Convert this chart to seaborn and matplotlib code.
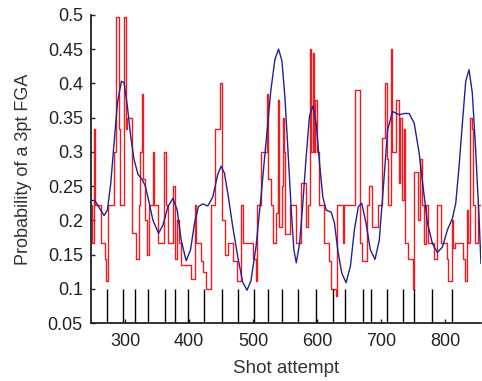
import numpy as np
import pandas as pd
import matplotlib
matplotlib.use("Agg")
import matplotlib.pyplot as plt
import seaborn as sns
from matplotlib.ticker import FuncFormatter

# red step series (shot attempt where a step starts, windowed 3pt share)
red_x = [246.6, 248.6, 251.7, 253.8, 262.1, 268.4, 271.0, 273.5, 282.9, 286.5,
         290.7, 292.7, 297.9, 301.0, 303.6, 310.9, 316.6, 321.3, 323.9, 326.5,
         328.0, 331.7, 334.8, 336.9, 343.6, 345.2, 351.4, 360.7, 363.9, 367.5,
         375.3, 377.9, 380.5, 384.1, 387.2, 403.8, 409.0, 411.6, 418.4, 422.0,
         427.2, 435.0, 441.2, 448.0, 451.6, 455.7, 460.9, 468.7, 475.4, 481.7,
         483.8, 500.4, 504.0, 506.6, 512.3, 521.6, 523.7, 527.9, 530.5, 535.1,
         538.3, 540.3, 544.5, 546.0, 547.6, 549.7, 557.5, 566.3, 574.6, 583.4,
         586.0, 588.6, 591.2, 593.8, 595.3, 597.4, 600.5, 602.2, 611.5, 617.8,
         621.9, 629.2, 631.8, 641.1, 642.7, 659.3, 667.1, 669.7, 677.5, 681.1,
         686.3, 694.6, 701.8, 706.0, 708.6, 711.2, 715.3, 717.4, 722.6, 727.3,
         729.9, 732.5, 736.1, 737.7, 741.3, 749.1, 751.7, 757.4, 761.0, 763.6,
         766.2, 769.8, 772.4, 781.8, 787.0, 793.7, 802.5, 805.1, 811.4, 812.9,
         815.5, 828.5, 831.1, 833.7, 836.3, 838.9, 841.5, 844.1, 846.7, 851.9,
         856.0]
red_y = [0.222, 0.167, 0.333, 0.222, 0.167, 0.143, 0.111, 0.222, 0.3, 0.497,
         0.333, 0.222, 0.497, 0.333, 0.35, 0.182, 0.143, 0.222, 0.3, 0.385,
         0.26, 0.2, 0.15, 0.222, 0.3, 0.222, 0.167, 0.3, 0.222, 0.167,
         0.25, 0.143, 0.2, 0.167, 0.135, 0.115, 0.222, 0.167, 0.14, 0.125,
         0.1, 0.222, 0.333, 0.4, 0.2, 0.15, 0.167, 0.14, 0.111, 0.222,
         0.167, 0.143, 0.111, 0.222, 0.3, 0.385, 0.26, 0.222, 0.167, 0.21,
         0.375, 0.19, 0.25, 0.35, 0.3, 0.18, 0.222, 0.167, 0.255, 0.19,
         0.222, 0.45, 0.3, 0.445, 0.3, 0.375, 0.3, 0.222, 0.167, 0.14,
         0.1, 0.09, 0.222, 0.167, 0.222, 0.39, 0.167, 0.14, 0.222, 0.25,
         0.19, 0.222, 0.32, 0.4, 0.29, 0.222, 0.45, 0.3, 0.375, 0.255,
         0.35, 0.23, 0.333, 0.167, 0.143, 0.1, 0.27, 0.2, 0.29, 0.222,
         0.165, 0.222, 0.167, 0.143, 0.222, 0.167, 0.143, 0.111, 0.2, 0.16,
         0.167, 0.143, 0.111, 0.215, 0.167, 0.35, 0.333, 0.222, 0.167, 0.222,
         0.222]

# blue smoothed estimate
blue_x = [246.6, 252.8, 260.6, 267.3, 272.5, 277.7, 282.9, 288.1, 294.3, 298.5,
          303.6, 308.8, 314.0, 320.3, 326.5, 331.7, 336.9, 343.6, 352.4, 359.2,
          367.0, 374.7, 381.5, 387.7, 395.5, 402.3, 408.5, 414.7, 421.4, 429.2,
          437.0, 444.8, 450.0, 455.2, 461.4, 468.2, 476.0, 483.7, 490.5, 496.7,
          504.5, 512.3, 520.1, 527.9, 534.1, 539.8, 545.0, 549.6, 554.4, 559.6,
          563.7, 567.4, 572.6, 577.7, 582.9, 588.1, 593.3, 598.5, 603.7, 608.9,
          614.1, 621.9, 627.1, 632.2, 638.5, 645.2, 652.0, 658.2, 664.4, 669.6,
          676.4, 683.1, 690.4, 697.1, 703.9, 710.1, 717.9, 728.3, 736.0, 743.8,
          751.6, 759.4, 766.1, 772.4, 780.1, 787.9, 795.7, 803.5, 811.3, 816.5,
          821.7, 826.9, 832.1, 837.2, 842.4, 847.6, 852.8, 855.9]
blue_y = [0.229, 0.229, 0.217, 0.207, 0.215, 0.254, 0.313, 0.371, 0.403, 0.401,
          0.367, 0.323, 0.289, 0.267, 0.260, 0.250, 0.229, 0.200, 0.181, 0.193,
          0.220, 0.232, 0.215, 0.171, 0.141, 0.157, 0.196, 0.220, 0.224, 0.221,
          0.234, 0.267, 0.279, 0.269, 0.234, 0.191, 0.147, 0.110, 0.098, 0.112,
          0.161, 0.234, 0.313, 0.391, 0.435, 0.450, 0.433, 0.381, 0.303, 0.215,
          0.157, 0.138, 0.166, 0.225, 0.293, 0.352, 0.367, 0.342, 0.284, 0.234,
          0.215, 0.212, 0.196, 0.157, 0.123, 0.109, 0.133, 0.186, 0.220, 0.225,
          0.196, 0.157, 0.143, 0.171, 0.254, 0.332, 0.359, 0.354, 0.356, 0.356,
          0.342, 0.298, 0.244, 0.196, 0.166, 0.153, 0.161, 0.186, 0.203, 0.225,
          0.279, 0.342, 0.403, 0.420, 0.386, 0.303, 0.206, 0.137]

# attempts marked along the bottom
marks = [271.5, 297.4, 315.6, 335.8, 362.8, 378.3, 398.6, 423, 451.6, 476,
         501.4, 523.8, 545.6, 569.5, 598.6, 625.5, 643.8, 672.3, 683.6, 709.2,
         734.6, 751.7, 779.3, 810.9]

sns.set_style("ticks")
plt.rcParams['font.family'] = ['Liberation Sans', 'DejaVu Sans']

fig = plt.figure(figsize=(4.82, 3.81), dpi=100)
ax = fig.add_axes([0.189, 0.152, 0.809, 0.809])

red = pd.DataFrame({"x": red_x, "y": red_y})
blue = pd.DataFrame({"x": blue_x, "y": blue_y})

sns.lineplot(data=red, x="x", y="y", ax=ax, color="#f01a22", lw=1,
             drawstyle="steps-post", estimator=None)
sns.lineplot(data=blue, x="x", y="y", ax=ax, color="#23238e", lw=1,
             estimator=None)
sns.rugplot(x=marks, ax=ax, height=0.111, color="black", lw=1.1,
            expand_margins=False)

ax.set_xlim(247, 856)
ax.set_ylim(0.05, 0.5)
ax.set_xticks([300, 400, 500, 600, 700, 800])
ax.set_yticks(np.arange(0.05, 0.501, 0.05))
ax.yaxis.set_major_formatter(FuncFormatter(lambda v, p: "%g" % round(v, 2)))
ax.tick_params(direction="in", length=3, width=1, labelsize=13, colors="#222222")
ax.tick_params(axis="x", pad=7)
ax.tick_params(axis="y", pad=6)
for s in ["top", "right"]:
    ax.spines[s].set_visible(False)
for s in ["left", "bottom"]:
    ax.spines[s].set_linewidth(1.3)
    ax.spines[s].set_color("#222222")

ax.set_xlabel("Shot attempt", fontsize=13.5, labelpad=7, color="#333333")
ax.set_ylabel("Probability of a 3pt FGA", fontsize=13, labelpad=11, color="#333333")

fig.savefig("out.png", dpi=100)
